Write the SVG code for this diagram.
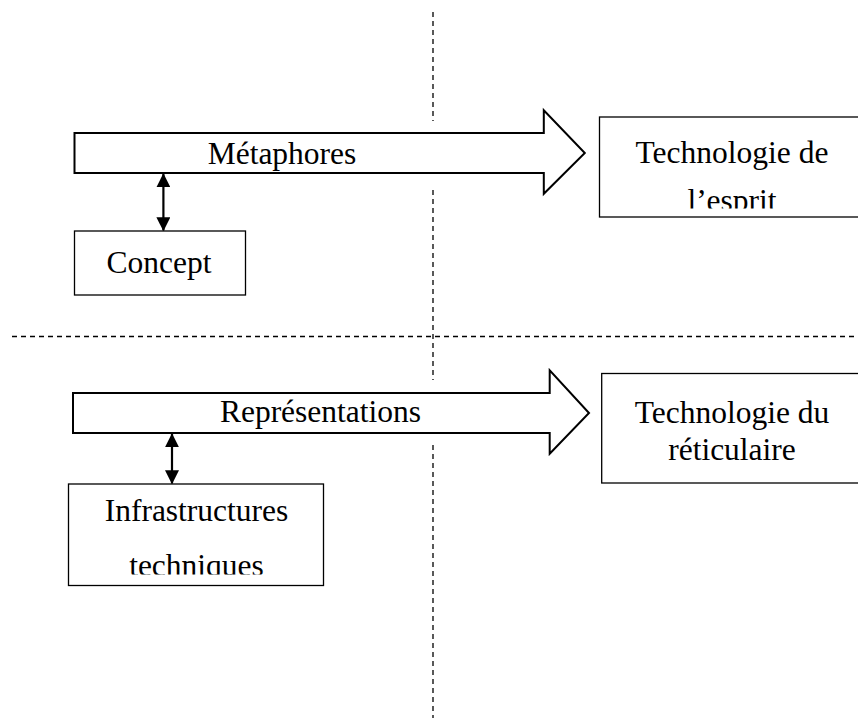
<svg xmlns="http://www.w3.org/2000/svg" width="858" height="720" viewBox="0 0 858 720">
<style>
.bg{fill:#fff}
.dash{stroke:#000;stroke-width:1.3;stroke-dasharray:5 4;fill:none}
.big{fill:#fff;stroke:#000;stroke-width:2}
.box{fill:#fff;stroke:#000;stroke-width:1.3}
.t{font-family:"Liberation Serif","Times New Roman",serif;font-size:31.5px;fill:#000;text-anchor:middle}
.link{stroke:#000;stroke-width:2.2;fill:none}
</style>
<defs>
<marker id="ah" viewBox="0 0 10 10" refX="9.5" refY="5" markerWidth="14" markerHeight="14" markerUnits="userSpaceOnUse" orient="auto-start-reverse">
<path d="M0,0 L10,5 L0,10 Z" fill="#000"/>
</marker>
<clipPath id="c1"><rect x="599" y="117" width="260" height="91.5"/></clipPath>
<clipPath id="c2"><rect x="68" y="484" width="256" height="90.5"/></clipPath>
</defs>
<rect class="bg" x="0" y="0" width="858" height="720"/>
<g id="guides">
<path class="dash" d="M433,12 V121 M433,190 V380 M433,445 V718"/>
<path class="dash" d="M12,336.5 H858"/>
</g>
<g id="metaphores">
<path class="big" d="M74.5,133 H543.8 V110.3 L584.8,153 L543.8,193.8 V173 H74.5 Z"/>
<text class="t" x="282" y="164">Métaphores</text>
</g>
<g id="representations">
<path class="big" d="M73,393 H549.7 V370.3 L589,413 L549.7,453.8 V433 H73 Z"/>
<text class="t" x="320.5" y="422">Représentations</text>
</g>
<g id="concept">
<rect class="box" x="74.5" y="231" width="171" height="64"/>
<text class="t" x="159" y="272.5">Concept</text>
</g>
<g id="infrastructures">
<rect class="box" x="68.5" y="484" width="255" height="101.5"/>
<g clip-path="url(#c2)">
<text class="t" x="196.5" y="520.7">Infrastructures</text>
<text class="t" x="196.5" y="576">techniques</text>
</g>
</g>
<g id="techno-esprit">
<rect class="box" x="599.5" y="117" width="270" height="100"/>
<g clip-path="url(#c1)">
<text class="t" x="732" y="163.3">Technologie de</text>
<text class="t" x="732" y="211">l’esprit</text>
</g>
</g>
<g id="techno-reticulaire">
<rect class="box" x="601.7" y="373.5" width="270" height="109.5"/>
<text class="t" x="732" y="423.3">Technologie du</text>
<text class="t" x="732" y="460">réticulaire</text>
</g>
<g id="connectors">
<line class="link" x1="163.4" y1="174" x2="163.4" y2="230.5" marker-start="url(#ah)" marker-end="url(#ah)"/>
<line class="link" x1="172" y1="434" x2="172" y2="483.5" marker-start="url(#ah)" marker-end="url(#ah)"/>
</g>
</svg>
